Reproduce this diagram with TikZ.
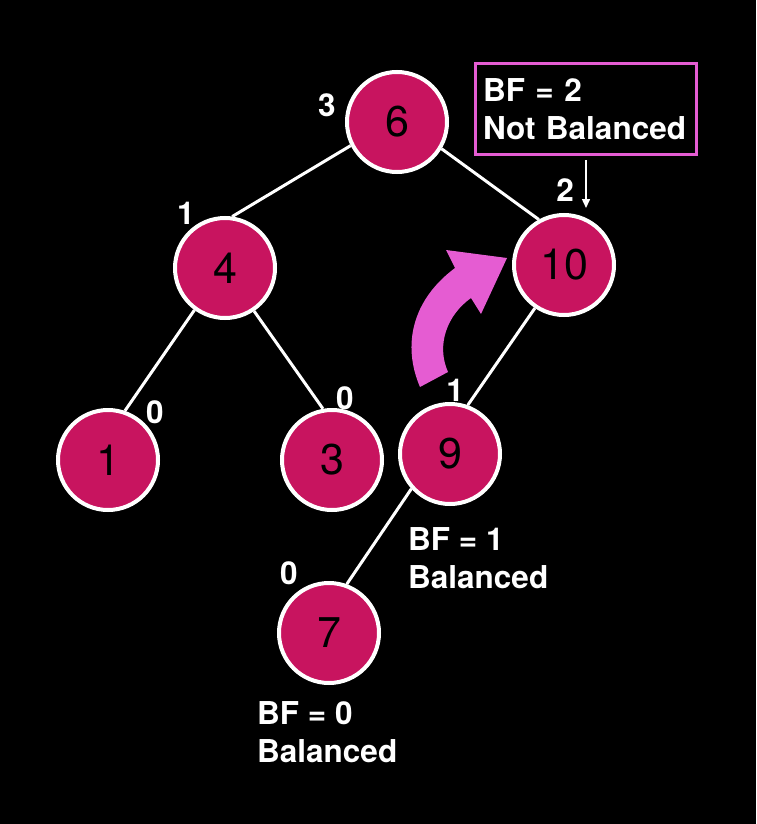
\documentclass[tikz,border=0pt]{standalone}
\usepackage{fontspec}
\setmainfont{TeX Gyre Heros}
\usepackage{xcolor}
\usepackage{tikz}
\usetikzlibrary{arrows.meta, positioning}
\definecolor{nodefill}{HTML}{C8145F}
\definecolor{rotpink}{HTML}{E55CD2}

\begin{document}
\begin{tikzpicture}[x=1pt, y=-1pt, >=Stealth,
  treenode/.style={circle, draw=white, line width=4pt, fill=nodefill, minimum size=100pt, inner sep=0pt, text=black, font=\fontsize{43}{43}\selectfont},
  bflabel/.style={text=white, inner sep=0pt, font=\bfseries\fontsize{31.5}{38}\selectfont},
  treeedge/.style={white, line width=3pt}]
  % Hintergrund
  \fill[black] (0,0) rectangle (756,824);
  \useasboundingbox (0,0) rectangle (756,824);

  % Knoten
  \node[treenode] (n6) at (397,122) {6};
  \node[treenode] (n4) at (225,268) {4};
  \node[treenode] (n10) at (564,265) {10};
  \node[treenode] (n1) at (108,460) {1};
  \node[treenode] (n3) at (332,460) {3};
  \node[treenode] (n9) at (450,454) {9};
  \node[treenode] (n7) at (329,633) {7};

  % Kanten
  \draw[treeedge] (n6.207) -- (n4.82);
  \draw[treeedge] (n6.329) -- (n10.119);
  \draw[treeedge] (n4.234) -- (n1.71);
  \draw[treeedge] (n4.304) -- (n3.100);
  \draw[treeedge] (n10.236) -- (n9.70);
  \draw[treeedge] (n9.222) -- (n7.70);

  % Hoehen
  \node[bflabel] (h6) at (327,105) {3};
  \node[bflabel] (h4) at (186,213) {1};
  \node[bflabel] (h10) at (565,190) {2};
  \node[bflabel] (h1) at (155,412) {0};
  \node[bflabel] (h3) at (345,398) {0};
  \node[bflabel] (h9) at (455,390) {1};
  \node[bflabel] (h7) at (289,573) {0};

  % Balance
  \node[bflabel, anchor=west, align=left] (bf9) at (408,558) {BF = 1\\Balanced};
  \node[bflabel, anchor=west, align=left] (bf7) at (257,732) {BF = 0\\Balanced};
  \node[bflabel, draw=rotpink, line width=3pt, minimum width=221pt, minimum height=91pt, text width=206pt, align=left] (bfbox) at (586,109) {BF = 2\\Not Balanced};
  \coordinate (tenmark) at (586,208);
  \draw[white, line width=1.5pt, -{Triangle[length=9pt, width=8pt]}] ([yshift=-4pt]bfbox.south) -- (tenmark);

  % Rotation
  \fill[rotpink] (420,387) .. controls (402,345) and (412,300) .. (455,268) -- (446,250) -- (507,258) -- (481,314) -- (471,298) .. controls (447,315) and (436,345) .. (448,372) -- cycle;
\end{tikzpicture}
\end{document}
